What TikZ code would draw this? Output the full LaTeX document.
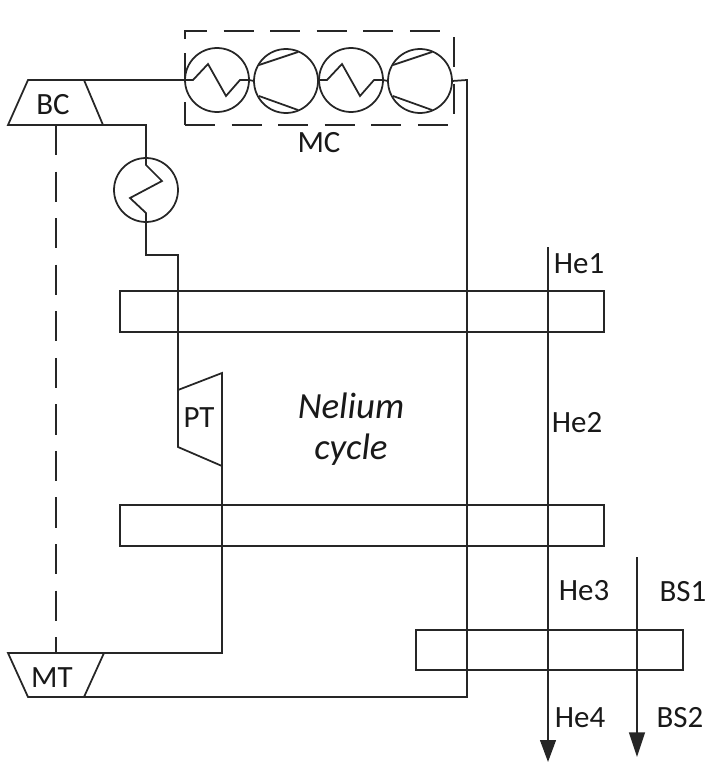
\documentclass[tikz,border=0pt]{standalone}
\usepackage{fontspec}
\setmainfont{Carlito}
\usetikzlibrary{calc,arrows.meta}
\tikzset{
	pipe/.style={line width=1pt, color=black!85},
	shaft/.style={pipe, dash pattern=on 17.2pt off 9.3pt},
	unit/.style={pipe, circle, draw, inner sep=0, outer sep=0, minimum size=1.28cm},
	lbl/.style={inner sep=0, font=\fontsize{17.6}{20}\selectfont, color=black!90},
	lblbig/.style={inner sep=0, font=\fontsize{21}{24}\selectfont\itshape, color=black!90},
	flow/.style={pipe, -{Triangle[length=#1, width=9pt]}}
}
\def\zigzagH(#1){\draw[pipe] (#1.west) -- ++(8,0) -- ++(15,-16) -- ++(18,32) -- ++(14,-16) -- (#1.east);}
\def\chords(#1){
	\draw[pipe] ($(#1)+(-27,-16)$) -- ($(#1)+(12,-29)$);
	\draw[pipe] ($(#1)+(-27,15)$) -- ($(#1)+(12,29)$);
}

\begin{document}
\begin{tikzpicture}[x=0.02cm, y=-0.02cm]
			%%%%% START %%%%%
			\useasboundingbox (0, 0) rectangle (710, 764);
			
			% compressors and turbines
			\coordinate (bcTL) at (28, 80);
			\coordinate (bcTR) at (84, 80);
			\coordinate (bcBL) at (8, 125);
			\coordinate (bcBR) at (103, 125);
			\coordinate (bcS) at (56, 125);
			\draw[pipe] (bcTL) -- (bcTR) -- (bcBR) -- (bcBL) -- cycle;
			\node[lbl] (bc) at (53, 105) {BC};
			
			\coordinate (mtTL) at (8, 653);
			\coordinate (mtTR) at (104, 653);
			\coordinate (mtBL) at (28, 697);
			\coordinate (mtBR) at (84, 697);
			\coordinate (mtS) at (56, 653);
			\draw[pipe] (mtTL) -- (mtTR) -- (mtBR) -- (mtBL) -- cycle;
			\node[lbl] (mt) at (52, 678) {MT};
			
			\coordinate (ptTL) at (178, 390);
			\coordinate (ptTR) at (222, 373);
			\coordinate (ptBL) at (178, 447);
			\coordinate (ptBR) at (222, 466);
			\draw[pipe] (ptTL) -- (ptTR) -- (ptBR) -- (ptBL) -- cycle;
			\node[lbl] (pt) at (199, 418) {PT};
			
			\draw[shaft] (bcS) -- (mtS);
			
			% MC group
			\node[unit] (hxa) at (217, 80) {};
			\node[unit] (mca) at (286, 81) {};
			\node[unit] (hxb) at (351, 80) {};
			\node[unit] (mcb) at (420, 81) {};
			\zigzagH(hxa)
			\zigzagH(hxb)
			\chords(mca)
			\chords(mcb)
			\draw[pipe] (hxa.east) -- (mca.west);
			\draw[pipe] (mca.east) -- (hxb.west);
			\draw[pipe] (hxb.east) -- (mcb.west);
			
			\draw[shaft] (185, 39) -- (185, 31) -- (454, 31);
			\draw[shaft] (454, 37) -- (454, 114);
			\draw[shaft] (185, 125) -- (454, 125);
			\draw[pipe] (185, 53) -- (185, 80);
			\draw[pipe] (185, 102) -- (185, 125);
			\node[lbl] (mc) at (319, 143) {MC};
			
			% cooler
			\node[unit] (cool) at (146, 190) {};
			\draw[pipe] (cool.north) -- ++(0,7) -- ++(16,16) -- ++(-32,17) -- ++(16,15) -- (cool.south);
			
			% recuperators
			\draw[pipe] (120, 291) rectangle (604, 332);
			\draw[pipe] (120, 505) rectangle (604, 546);
			\draw[pipe] (416, 630) rectangle (683, 670);
			
			% piping
			\draw[pipe] (bcTR) -- (hxa.west);
			\draw[pipe] (bcBR) -| (cool.north);
			\draw[pipe] (cool.south) |- (178, 255) -- (ptTL);
			\draw[pipe] (ptBR) |- (mtTR);
			\draw[pipe] (mtBR) -- (467, 697) -- (467, 80) -- (mcb.east);
			
			% helium and BS lines
			\coordinate (heIn) at (548, 247);
			\coordinate (heOut) at (548, 762);
			\coordinate (bsIn) at (637, 557);
			\coordinate (bsOut) at (637, 757);
			\draw[flow=12.5pt] (heIn) -- (heOut);
			\draw[flow=14pt] (bsIn) -- (bsOut);
			
			\node[lbl] (he1) at (579, 264) {He1};
			\node[lbl] (he2) at (577, 423) {He2};
			\node[lbl] (he3) at (584, 591) {He3};
			\node[lbl] (he4) at (580, 718) {He4};
			\node[lbl] (bs1) at (683, 592) {BS1};
			\node[lbl] (bs2) at (680, 718) {BS2};
			
			\node[lblbig] (nelium) at (351, 406) {Nelium};
			\node[lblbig] (cycle) at (351, 450) {cycle};
			%%%%% END %%%%%
\end{tikzpicture}
\end{document}
